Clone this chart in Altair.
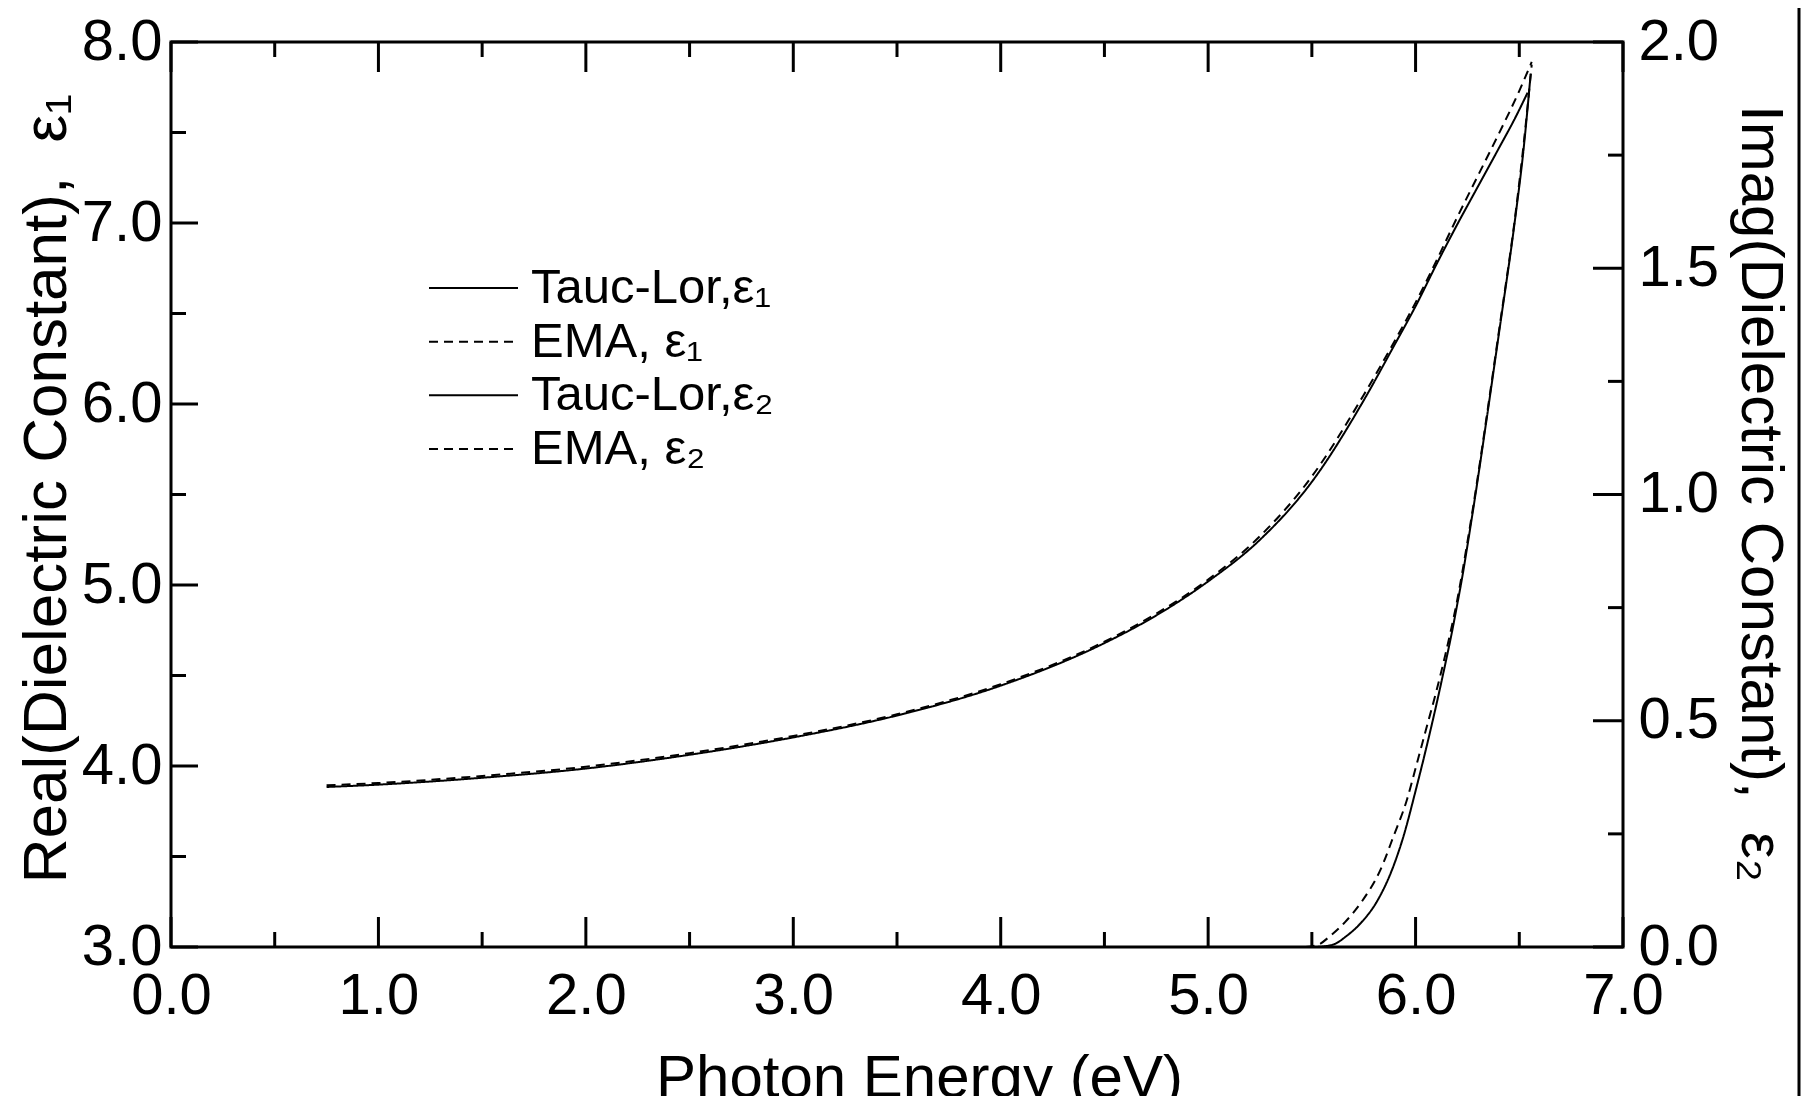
import altair as alt
import pandas as pd

FONT = "Liberation Sans"

# ---- data ----
# epsilon 1 (left axis)
e1_tl_x = [0.75, 1.0, 1.5, 2.0, 2.5, 3.0, 3.5, 4.0, 4.5, 4.75, 5.0, 5.25, 5.5, 5.75, 5.9, 6.0, 6.1, 6.2, 6.3, 6.4, 6.48, 6.54]
e1_tl_y = [3.884, 3.897, 3.935, 3.986, 4.062, 4.158, 4.279, 4.444, 4.679, 4.832, 5.02, 5.25, 5.57, 6.02, 6.33, 6.54, 6.77, 6.99, 7.20, 7.41, 7.58, 7.72]
e1_ema_x = [0.75, 1.0, 1.5, 2.0, 2.5, 3.0, 3.5, 4.0, 4.5, 4.75, 5.0, 5.25, 5.5, 5.75, 5.9, 6.0, 6.1, 6.2, 6.3, 6.4, 6.5, 6.56]
e1_ema_y = [3.893, 3.906, 3.945, 3.996, 4.071, 4.166, 4.286, 4.452, 4.687, 4.842, 5.03, 5.27, 5.6, 6.05, 6.35, 6.56, 6.79, 7.03, 7.26, 7.49, 7.73, 7.89]

# epsilon 2 (right axis)
e2_tl_x = [5.52, 5.60, 5.669, 5.74, 5.813, 5.886, 5.942, 6.00, 6.05, 6.10, 6.143, 6.175, 6.20, 6.226, 6.25, 6.276, 6.35, 6.40, 6.483, 6.52, 6.555]
e2_tl_y = [0.0, 0.005, 0.025, 0.055, 0.100, 0.170, 0.245, 0.345, 0.437, 0.535, 0.625, 0.695, 0.755, 0.82, 0.887, 0.962, 1.19, 1.35, 1.62, 1.76, 1.93]
e2_ema_x = [5.47, 5.53, 5.59, 5.66, 5.74, 5.83, 5.894, 5.958, 6.00, 6.05, 6.10, 6.143, 6.20, 6.25, 6.276, 6.35, 6.40, 6.483, 6.52, 6.56]
e2_ema_y = [0.0, 0.005, 0.025, 0.055, 0.100, 0.170, 0.245, 0.325, 0.395, 0.48, 0.565, 0.645, 0.765, 0.895, 0.968, 1.195, 1.355, 1.625, 1.77, 1.95]

series_names = ["Tauc-Lor,ε₁", "EMA, ε₁", "Tauc-Lor,ε₂", "EMA, ε₂"]
legend_rows = [0, 1, 2, 3]

x_major = [0, 1, 2, 3, 4, 5, 6, 7]
x_minor = [0.5, 1.5, 2.5, 3.5, 4.5, 5.5, 6.5]
y1_major = [3, 4, 5, 6, 7, 8]
y1_minor = [3.5, 4.5, 5.5, 6.5, 7.5]
y2_major = [0, 0.5, 1.0, 1.5, 2.0]
y2_minor = [0.25, 0.75, 1.25, 1.75]

W, H = 1452, 905

df_e1 = pd.concat([
    pd.DataFrame({"x": e1_tl_x, "y": e1_tl_y, "series": series_names[0]}),
    pd.DataFrame({"x": e1_ema_x, "y": e1_ema_y, "series": series_names[1]}),
])
df_e2 = pd.concat([
    pd.DataFrame({"x": e2_tl_x, "y": e2_tl_y, "series": series_names[2]}),
    pd.DataFrame({"x": e2_ema_x, "y": e2_ema_y, "series": series_names[3]}),
])
df_leg = pd.DataFrame({"series": series_names, "row": legend_rows})

xs = alt.Scale(domain=[0, 7], nice=False, zero=False)
y1s = alt.Scale(domain=[3, 8], nice=False, zero=False)
y2s = alt.Scale(domain=[0, 2], nice=False, zero=False)
legs = alt.Scale(domain=[0, 3], range=[246, 407], nice=False, zero=False)

common = dict(ticks=False, tickSize=0, domain=False, grid=False, format=".1f",
              labelFont=FONT, labelFontSize=58, labelColor="black",
              labelFlush=False, labelOverlap=False, labelBound=False,
              titleFont=FONT, titleFontWeight="normal",
              titleColor="black", titleBaseline="alphabetic", titleAlign="center")

xax = alt.Axis(title="Photon Energy (eV)", values=x_major, labelPadding=66,
               labelBaseline="alphabetic", titleFontSize=60, titleX=748, titleY=149, **common)
y1ax = alt.Axis(title="Real(Dielectric Constant),\u00a0 ε₁", orient="left", values=y1_major,
                labelPadding=9, titleFontSize=62, titleAngle=270, titleX=-106, titleY=446, **common)
y2ax = alt.Axis(title="Imag(Dielectric Constant),\u00a0 ε₂", orient="right", values=y2_major,
                labelPadding=15, titleFontSize=60, titleAngle=90, titleX=118, titleY=451, **common)

dash_scale = alt.Scale(domain=series_names, range=[[1, 0], [9, 6], [1, 0], [9, 6]])

line_e1 = alt.Chart(df_e1).mark_line(color="black", strokeWidth=2, interpolate="monotone").encode(
    x=alt.X("x:Q", scale=xs, axis=xax),
    y=alt.Y("y:Q", scale=y1s, axis=y1ax),
    strokeDash=alt.StrokeDash("series:N", scale=dash_scale, legend=None),
)
line_e2 = alt.Chart(df_e2).mark_line(color="black", strokeWidth=2, interpolate="monotone").encode(
    x=alt.X("x:Q", scale=xs, axis=xax),
    y=alt.Y("y:Q", scale=y2s, axis=y2ax),
    strokeDash=alt.StrokeDash("series:N", scale=dash_scale, legend=None),
)

def rules(vals):
    return alt.Chart(pd.DataFrame({"t": vals})).mark_rule(color="black", strokeWidth=3)

xt_major_b = rules(x_major).encode(x=alt.X("t:Q", scale=xs, axis=xax), y=alt.value(H - 30), y2=alt.value(H))
xt_minor_b = rules(x_minor).encode(x=alt.X("t:Q", scale=xs, axis=xax), y=alt.value(H - 15), y2=alt.value(H))
xt_major_t = rules(x_major).encode(x=alt.X("t:Q", scale=xs, axis=xax), y=alt.value(0), y2=alt.value(30))
xt_minor_t = rules(x_minor).encode(x=alt.X("t:Q", scale=xs, axis=xax), y=alt.value(0), y2=alt.value(15))
y1t_major = rules(y1_major).encode(y=alt.Y("t:Q", scale=y1s, axis=y1ax), x=alt.value(0), x2=alt.value(27))
y1t_minor = rules(y1_minor).encode(y=alt.Y("t:Q", scale=y1s, axis=y1ax), x=alt.value(0), x2=alt.value(15))
y2t_major = rules(y2_major).encode(y=alt.Y("t:Q", scale=y2s, axis=y2ax), x=alt.value(W - 30), x2=alt.value(W))
y2t_minor = rules(y2_minor).encode(y=alt.Y("t:Q", scale=y2s, axis=y2ax), x=alt.value(W - 15), x2=alt.value(W))

border = alt.Chart(pd.DataFrame({"k": [0]})).mark_rule(color="black", strokeWidth=3).encode(
    x=alt.value(1628), y=alt.value(-34), y2=alt.value(1054))

# legend (inside the plot)
leg_lines = alt.Chart(df_leg).mark_rule(color="black", strokeWidth=2).encode(
    y=alt.Y("row:Q", scale=legs, axis=None),
    x=alt.value(258), x2=alt.value(347),
    strokeDash=alt.StrokeDash("series:N", scale=dash_scale, legend=None),
)
leg_text = alt.Chart(df_leg).mark_text(align="left", baseline="middle", font=FONT,
                                       fontSize=49, color="black").encode(
    y=alt.Y("row:Q", scale=legs, axis=None),
    x=alt.value(360),
    text="series:N",
)

layer_a = alt.layer(line_e1, y1t_major, y1t_minor, xt_major_b, xt_minor_b, xt_major_t, xt_minor_t, border)
layer_b = alt.layer(line_e2, y2t_major, y2t_minor)
layer_c = alt.layer(leg_lines, leg_text)

chart = alt.layer(layer_a, layer_b, layer_c).resolve_scale(y="independent").properties(
    width=W, height=H,
    padding={"left": 163, "top": 34, "right": 178, "bottom": 149},
    autosize=alt.AutoSizeParams(type="none"),
    background="white",
).configure_view(stroke="black", strokeWidth=3)

chart.save("out.html", embed_options={"renderer": "svg", "actions": False})
